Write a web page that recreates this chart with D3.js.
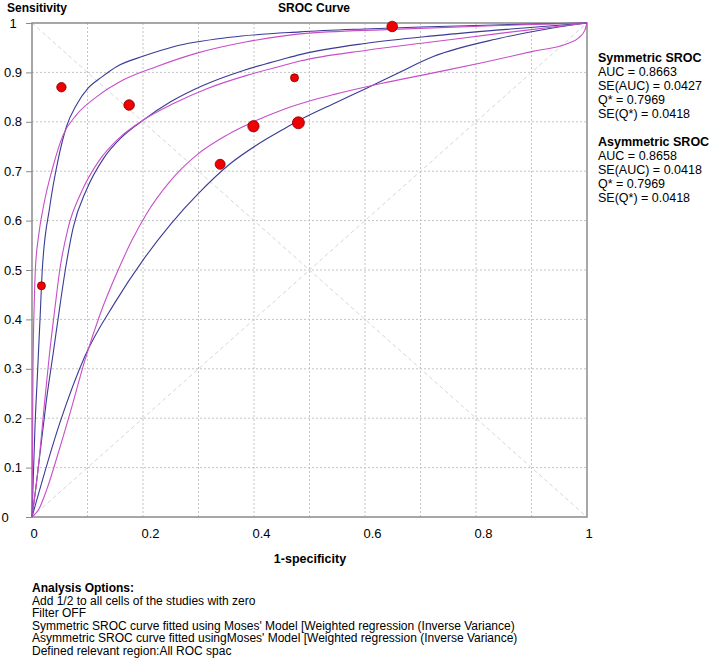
<!DOCTYPE html>
<html lang="en">
<head>
<meta charset="UTF-8">
<title>SROC Curve</title>
<script src="https://d3js.org/d3.v7.min.js"></script>
<style>
  body { margin: 0; background: #fff; }
  svg text { font-family: "Liberation Sans", Arial, sans-serif; fill: #000; }
  .bold { font-weight: bold; }
</style>
</head>
<body>
<svg id="chart" width="709" height="662"></svg>
<script>
// studies: 1-specificity, sensitivity, relative weight
const studyFpr = [0.017, 0.053, 0.175, 0.339, 0.399, 0.473, 0.480, 0.649];
const studyTpr = [0.468, 0.870, 0.834, 0.714, 0.791, 0.889, 0.798, 0.993];
const studyWeight = [16, 22, 28, 25, 32, 16, 36, 28];

// curves as [1-specificity, sensitivity]
const symUpper = [[0,0],[0.0024,0.082],[0.0054,0.183],[0.0096,0.284],[0.0144,0.399],[0.0185,0.50],[0.032,0.628],[0.047,0.723],[0.062,0.790],[0.080,0.834],[0.101,0.868],[0.126,0.891],[0.153,0.912],[0.201,0.933],[0.255,0.952],[0.357,0.971],[0.483,0.982],[0.6,0.988],[0.7,0.992],[0.8,0.995],[0.9,0.998],[1,1]];
const asymUpper = [[0,0],[0.0008,0.12],[0.0018,0.30],[0.004,0.43],[0.006,0.50],[0.012,0.57],[0.020,0.625],[0.038,0.71],[0.056,0.773],[0.080,0.814],[0.117,0.851],[0.165,0.885],[0.225,0.912],[0.297,0.939],[0.387,0.962],[0.483,0.978],[0.649,0.987],[0.843,0.995],[1,1]];
const symCurve = [[0,0],[0.007,0.06],[0.0156,0.14],[0.0264,0.24],[0.038,0.33],[0.050,0.425],[0.060,0.50],[0.074,0.585],[0.098,0.662],[0.129,0.726],[0.159,0.766],[0.201,0.804],[0.249,0.840],[0.309,0.874],[0.381,0.904],[0.453,0.927],[0.483,0.936],[0.603,0.959],[0.723,0.974],[0.843,0.986],[1,1]];
const asymCurve = [[0,0],[0.006,0.05],[0.0132,0.12],[0.0216,0.22],[0.031,0.325],[0.041,0.42],[0.050,0.50],[0.065,0.585],[0.089,0.658],[0.120,0.720],[0.156,0.766],[0.201,0.804],[0.255,0.837],[0.315,0.867],[0.387,0.894],[0.453,0.914],[0.483,0.923],[0.603,0.945],[0.723,0.962],[0.843,0.979],[1,1]];
const asymLower = [[0,0],[0.0114,0.014],[0.0264,0.055],[0.0474,0.13],[0.0715,0.222],[0.0955,0.318],[0.1225,0.41],[0.156,0.502],[0.18,0.56],[0.207,0.615],[0.249,0.68],[0.297,0.733],[0.351,0.773],[0.405,0.803],[0.453,0.825],[0.5,0.842],[0.543,0.855],[0.627,0.877],[0.723,0.899],[0.813,0.92],[0.904,0.943],[0.964,0.958],[0.985,0.97],[0.996,0.985],[1,1]];
const symLower = [[0,0],[0.05,0.19],[0.0955,0.326],[0.15,0.435],[0.2,0.52],[0.25,0.593],[0.3,0.655],[0.357,0.715],[0.405,0.753],[0.453,0.785],[0.483,0.804],[0.55,0.840],[0.603,0.868],[0.66,0.899],[0.723,0.932],[0.843,0.969],[0.933,0.989],[1,1]];

const axisTicks = [0, 0.2, 0.4, 0.6, 0.8, 1];
const yTicks = [0, 0.1, 0.2, 0.3, 0.4, 0.5, 0.6, 0.7, 0.8, 0.9, 1];
const gridTicks = [0.1, 0.2, 0.3, 0.4, 0.5, 0.6, 0.7, 0.8, 0.9];

const symTitle = "Symmetric SROC";
const symStats = ["AUC = 0.8663", "SE(AUC) = 0.0427", "Q* = 0.7969", "SE(Q*) = 0.0418"];
const asymTitle = "Asymmetric SROC";
const asymStats = ["AUC = 0.8658", "SE(AUC) = 0.0418", "Q* = 0.7969", "SE(Q*) = 0.0418"];

const optionsTitle = "Analysis Options:";
const optionsLines = [
  "Add 1/2 to all cells of the studies with zero",
  "Filter OFF",
  "Symmetric SROC curve fitted using Moses' Model [Weighted regression (Inverse Variance)",
  "Asymmetric SROC curve fitted usingMoses' Model [Weighted regression (Inverse Variance)",
  "Defined relevant region:All ROC spac"
];

const navy = "#3a3a96";
const magenta = "#c84ec8";

const svg = d3.select("#chart");
const x = d3.scaleLinear().domain([0, 1]).range([32, 587]);
const y = d3.scaleLinear().domain([0, 1]).range([517, 23]);
const r = d3.scaleSqrt().domain([0, d3.max(studyWeight)]).range([0, 6]);

// grid
const grid = svg.append("g").attr("stroke", "#c4c4c4").attr("stroke-dasharray", "2,2");
grid.selectAll(".gx").data(gridTicks).enter().append("line")
  .attr("x1", d => x(d)).attr("x2", d => x(d)).attr("y1", y(0)).attr("y2", y(1));
grid.selectAll(".gy").data(gridTicks).enter().append("line")
  .attr("y1", d => y(d)).attr("y2", d => y(d)).attr("x1", x(0)).attr("x2", x(1));

// diagonals
svg.append("g").attr("stroke", "#d6d6d6").attr("stroke-dasharray", "4,3")
  .selectAll("line").data([[[0, 1], [1, 0]], [[0, 0], [1, 1]]]).enter().append("line")
  .attr("x1", d => x(d[0][0])).attr("y1", d => y(d[0][1]))
  .attr("x2", d => x(d[1][0])).attr("y2", d => y(d[1][1]));

// frame
svg.append("rect").attr("x", x(0)).attr("y", y(1))
  .attr("width", x(1) - x(0)).attr("height", y(0) - y(1))
  .attr("fill", "none").attr("stroke", "#8a8a8a").attr("stroke-width", 1.5);

// curves
const line = d3.line().x(d => x(d[0])).y(d => y(d[1])).curve(d3.curveMonotoneX);
const curves = [
  [symLower, navy], [asymLower, magenta],
  [symCurve, navy], [asymCurve, magenta],
  [symUpper, navy], [asymUpper, magenta]
];
svg.append("g").selectAll("path").data(curves).enter().append("path")
  .attr("d", d => line(d[0]))
  .attr("fill", "none")
  .attr("stroke", d => d[1])
  .attr("stroke-width", 1.1);

// studies
svg.append("g").selectAll("circle").data(studyFpr).enter().append("circle")
  .attr("cx", d => x(d))
  .attr("cy", (d, i) => y(studyTpr[i]))
  .attr("r", (d, i) => r(studyWeight[i]))
  .attr("fill", "#f00000")
  .attr("stroke", "#800000")
  .attr("stroke-width", 0.8);

// axes
const yAxis = svg.append("g").attr("transform", `translate(${x(0)},0)`)
  .call(d3.axisLeft(y).tickValues(yTicks).tickSize(6).tickFormat(d3.format("")));
yAxis.select(".domain").remove();
yAxis.selectAll(".tick line").attr("stroke", "#8a8a8a");
yAxis.selectAll(".tick text")
  .attr("text-anchor", "middle")
  .attr("x", d => d === 0 ? -27 : -19)
  .attr("font-size", 13)
  .attr("font-family", null);

const xAxis = svg.append("g").attr("transform", `translate(0,${y(0)})`)
  .call(d3.axisBottom(x).tickValues(axisTicks).tickSize(0).tickFormat(d3.format("")));
xAxis.select(".domain").remove();
xAxis.selectAll(".tick text")
  .attr("text-anchor", "start")
  .attr("x", -2)
  .attr("y", 12)
  .attr("font-size", 13)
  .attr("font-family", null);

// titles
svg.append("text").attr("class", "bold").attr("x", 7).attr("y", 12).attr("font-size", 12).text("Sensitivity");
svg.append("text").attr("class", "bold").attr("x", 314).attr("y", 12).attr("font-size", 12)
  .attr("text-anchor", "middle").text("SROC Curve");
svg.append("text").attr("class", "bold").attr("x", 310).attr("y", 563).attr("font-size", 12.5)
  .attr("text-anchor", "middle").text("1-specificity");

// stats legend
function statsBlock(title, lines, top) {
  const g = svg.append("g").attr("transform", `translate(598,${top})`).attr("font-size", 12.5);
  g.append("text").attr("class", "bold").attr("y", 0).text(title);
  g.selectAll(".s").data(lines).enter().append("text")
    .attr("y", (d, i) => (i + 1) * 14).text(d => d);
}
statsBlock(symTitle, symStats, 62);
statsBlock(asymTitle, asymStats, 146);

// analysis options
const opt = svg.append("g").attr("transform", "translate(32,592)").attr("font-size", 12);
opt.append("text").attr("class", "bold").text(optionsTitle);
opt.selectAll(".o").data(optionsLines).enter().append("text")
  .attr("y", (d, i) => (i + 1) * 12.6).text(d => d);
</script>
</body>
</html>
